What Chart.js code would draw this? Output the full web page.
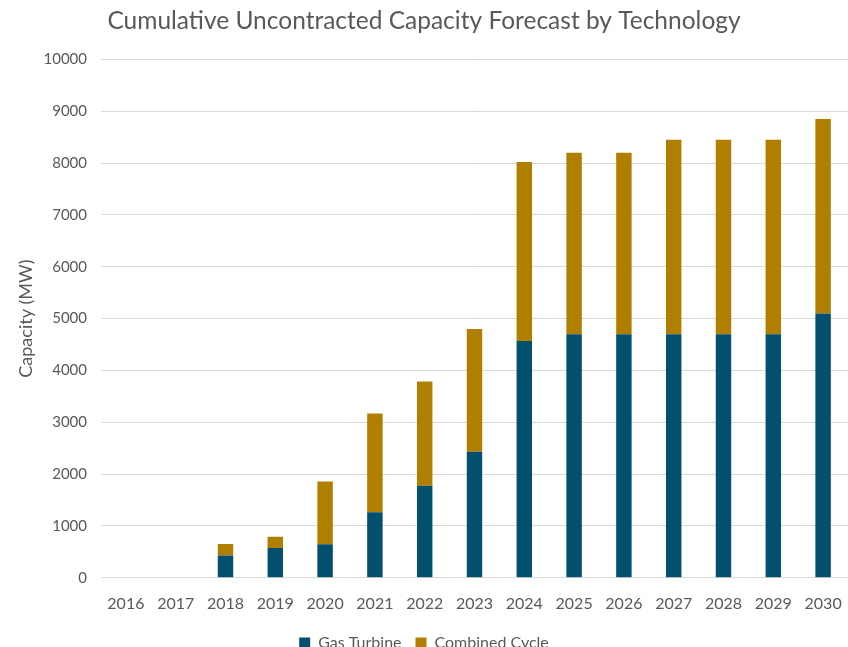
<!DOCTYPE html>
<html lang="en">

<head>
  <meta charset="utf-8">
  <title>Cumulative Uncontracted Capacity Forecast</title>
  <script src="https://cdn.jsdelivr.net/npm/chart.js@4.4.0/dist/chart.umd.min.js"></script>
  <style>
    body { margin: 0; background: #fff; }
    #wrap { width: 848px; height: 647px; }
  </style>
</head>

<body>
  <div id="wrap"><canvas id="myChart" width="848" height="647"></canvas></div>

  <script>
    // data
    const years = ['2016', '2017', '2018', '2019', '2020', '2021', '2022', '2023',
      '2024', '2025', '2026', '2027', '2028', '2029', '2030'];
    const gasTurbine = [0, 0, 430, 575, 645, 1265, 1775, 2430, 4570, 4700, 4700, 4700, 4700, 4700, 5100];
    const combinedCycle = [0, 0, 220, 215, 1215, 1905, 2010, 2370, 3450, 3500, 3500, 3750, 3750, 3750, 3750];

    const grey = '#595959';
    const font = "Lato, 'Open Sans', sans-serif";

    const config = {
      type: 'bar',
      data: {
        labels: years,
        datasets: [{
            label: 'Gas Turbine',
            data: gasTurbine,
            backgroundColor: '#034f6e',
            barPercentage: 0.31,
            categoryPercentage: 1
          },
          {
            label: 'Combined Cycle',
            data: combinedCycle,
            backgroundColor: '#b17f00',
            barPercentage: 0.31,
            categoryPercentage: 1
          }
        ]
      },
      options: {
        responsive: false,
        animation: false,
        layout: { padding: { left: 0, right: 0, top: 6, bottom: -14 } },
        scales: {
          x: {
            stacked: true,
            grid: { display: false },
            border: { color: '#d9d9d9' },
            ticks: { color: grey, font: { family: font, size: 16 }, padding: 8 },
            // let the last category run to the canvas edge
            afterFit: (scale) => { scale.paddingLeft = 0; scale.paddingRight = 0; }
          },
          y: {
            stacked: true,
            min: 0,
            max: 10000,
            ticks: {
              stepSize: 1000,
              color: grey,
              font: { family: font, size: 15 },
              padding: 14,
              callback: (v) => String(v)
            },
            grid: { color: '#d9d9d9', drawTicks: false },
            border: { display: false },
            title: {
              display: true,
              text: 'Capacity (MW)',
              color: grey,
              font: { family: font, size: 18 },
              padding: { top: 15, bottom: 0 }
            },
            afterFit: (scale) => { scale.width = 101; }
          }
        },
        plugins: {
          title: {
            display: true,
            text: 'Cumulative Uncontracted Capacity Forecast by Technology',
            color: grey,
            font: { family: font, size: 24.5, weight: 'normal' },
            padding: { top: 0, bottom: 24 }
          },
          legend: {
            display: true,
            position: 'bottom',
            labels: {
              color: grey,
              font: { family: font, size: 16 },
              boxWidth: 11,
              boxHeight: 11,
              padding: 14
            }
          },
          tooltip: { enabled: false }
        }
      }
    };

    const myChart = new Chart(document.getElementById('myChart'), config);
  </script>

</body>

</html>
